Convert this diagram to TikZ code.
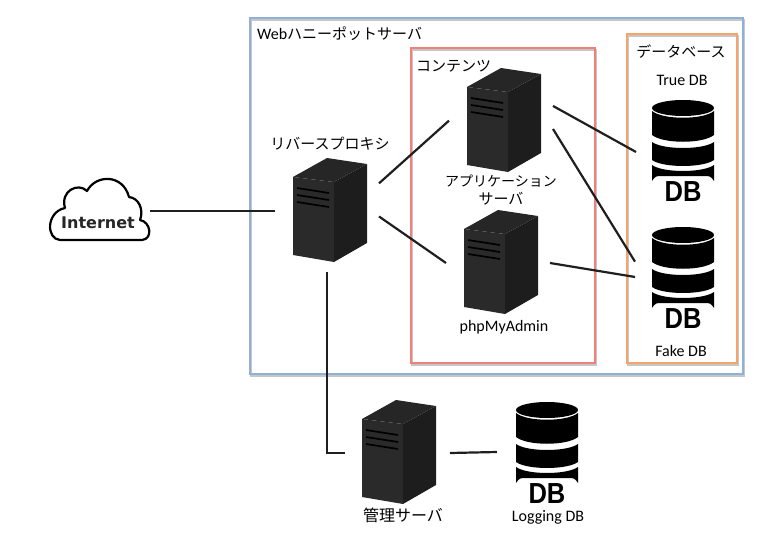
\documentclass[tikz,border=0pt]{standalone}
\usepackage{fontspec}
\setmainfont{Carlito}
\newfontfamily\jpfont{Noto Sans CJK JP}
\newfontfamily\dbfont{Liberation Sans}
\newfontfamily\cloudfont{DejaVu Sans}
\definecolor{webblue}{HTML}{8FB1D8}
\definecolor{contred}{HTML}{F27F7A}
\definecolor{dborange}{HTML}{F5A56B}
\definecolor{srvfront}{HTML}{2A2A2A}
\definecolor{srvside}{HTML}{1D1D1D}
\definecolor{srvtop}{HTML}{262626}
\tikzset{
  frame/.style={draw=#1,line width=2.6pt,inner sep=0pt,
    preaction={draw=black!22,line width=2pt,transform canvas={shift={(0.6pt,-1.6pt)}}}},
  hub/.style={inner sep=0pt,outer sep=0pt,minimum width=#1},
  link/.style={line width=2.2pt,draw=black!88},
  jplabel/.style={inner sep=0pt,font=\fontsize{15}{16}\jpfont},
  enlabel/.style={inner sep=0pt,font=\fontsize{16}{18}\selectfont},
  server/.pic={
    \fill[srvfront] (0,19) -- (41,24) -- (41,104) -- (0,97) -- cycle;
    \fill[srvside] (41,24) -- (74,6) -- (74,85) -- (41,104) -- cycle;
    \fill[srvtop] (0,19) -- (34,0) -- (74,6) -- (41,24) -- cycle;
    \draw[black,line width=1.7pt] (4,30) -- (36,35) (4,37) -- (36,42) (4,44) -- (36,49);
  },
  dbicon/.pic={
    \fill[black] (0,8) ellipse (31 and 8);
    \fill[black] (-31,11) .. controls (-20,20) and (20,20) .. (31,11) -- (31,35)
      .. controls (20,44) and (-20,44) .. (-31,35) -- cycle;
    \fill[black] (-31,42) .. controls (-20,50) and (20,50) .. (31,42) -- (31,60)
      .. controls (20,68) and (-20,68) .. (-31,60) -- cycle;
    \fill[black] (-31,65) .. controls (-20,73) and (20,73) .. (31,65) -- (31,81)
      .. controls (28,76) and (26,76) .. (22,76) -- (-22,76)
      .. controls (-26,76) and (-28,76) .. (-31,81) -- cycle;
    \node[inner sep=0pt,xscale=.88,transform shape,font=\fontsize{29}{29}\dbfont\bfseries] (-txt) at (0,92) {DB};
  },
}
\begin{document}
\begin{tikzpicture}[x=1pt,y=-1pt]
\useasboundingbox (0,0) rectangle (780,554);
% frames
\node[frame=webblue,minimum width=493pt,minimum height=356pt] (webbox) at (496.5,196) {};
\node[frame=contred,minimum width=184pt,minimum height=315pt] (contbox) at (503,205.5) {};
\node[frame=dborange,minimum width=110pt,minimum height=329pt] (dbbox) at (682,198.5) {};
% icons
\pic at (293,158) {server};
\pic at (467,68) {server};
\pic at (464,210) {server};
\pic at (362,400) {server};
\pic (trueicon) at (683,100) {dbicon};
\pic (fakeicon) at (683,227) {dbicon};
\pic (logicon) at (547,402) {dbicon};
\draw[black,line width=2.2pt,line join=round] (60,240)
  .. controls (46,239) and (46,212) .. (65,208)
  .. controls (60,191) and (78,182) .. (87,191)
  .. controls (96,174) and (123,174) .. (129,197)
  .. controls (139,198) and (144,210) .. (140,220)
  .. controls (151,222) and (153,239) .. (142,240) -- cycle;
% anchors for the connectors
\node[hub=100pt,minimum height=64pt] (cloud) at (100,211) {};
\node[hub=104pt,minimum height=122pt] (proxy) at (327,211) {};
\node[hub=104pt,minimum height=110pt] (app) at (501,117) {};
\node[hub=104pt,minimum height=110pt] (php) at (498,263) {};
\node[hub=105pt,minimum height=110pt] (admin) at (397.5,453) {};
\node[hub=94pt,minimum height=110pt] (truedb) at (683,152) {};
\node[hub=96pt,minimum height=110pt] (fakedb) at (683,265) {};
\node[hub=100pt,minimum height=100pt] (logdb) at (547,452) {};
% connectors
\draw[link] (cloud.east) -- (proxy.west);
\draw[link] (proxy.28) -- (app.184);
\draw[link] (proxy.-6) -- (php.west);
\draw[link] (app.12) -- (truedb.west);
\draw[link] (app.-13) -- (fakedb.176);
\draw[link] (php.east) -- (fakedb.194);
\draw[link] (proxy.south) |- (admin.west);
\draw[link] (admin.east) -- (logdb.west);
% labels
\node[anchor=center,inner sep=0pt,text=black!85,font=\fontsize{16}{16}\cloudfont\bfseries] (inetlabel) at (98,223) {Internet};
\node[enlabel,anchor=west] (weblabel) at (257,34) {Web{\jpfont\fontsize{15}{16}\selectfont ハニーポットサーバ}};
\node[jplabel,anchor=west] (contlabel) at (416,66) {コンテンツ};
\node[jplabel] (dblabel) at (681,52) {データベース};
\node[enlabel] (truelabel) at (682,80) {True DB};
\node[jplabel] (proxylabel) at (330,144) {リバースプロキシ};
\node[jplabel,font=\fontsize{14}{16}\jpfont] (applabel) at (501,181) {アプリケーション};
\node[jplabel] (applabelb) at (501,199) {サーバ};
\node[enlabel] (phplabel) at (504,327) {phpMyAdmin};
\node[enlabel] (fakelabel) at (681,351) {Fake DB};
\node[jplabel,font=\fontsize{16}{16}\jpfont] (adminlabel) at (403,515) {管理サーバ};
\node[enlabel] (loglabel) at (548,517.5) {Logging DB};
\end{tikzpicture}
\end{document}
